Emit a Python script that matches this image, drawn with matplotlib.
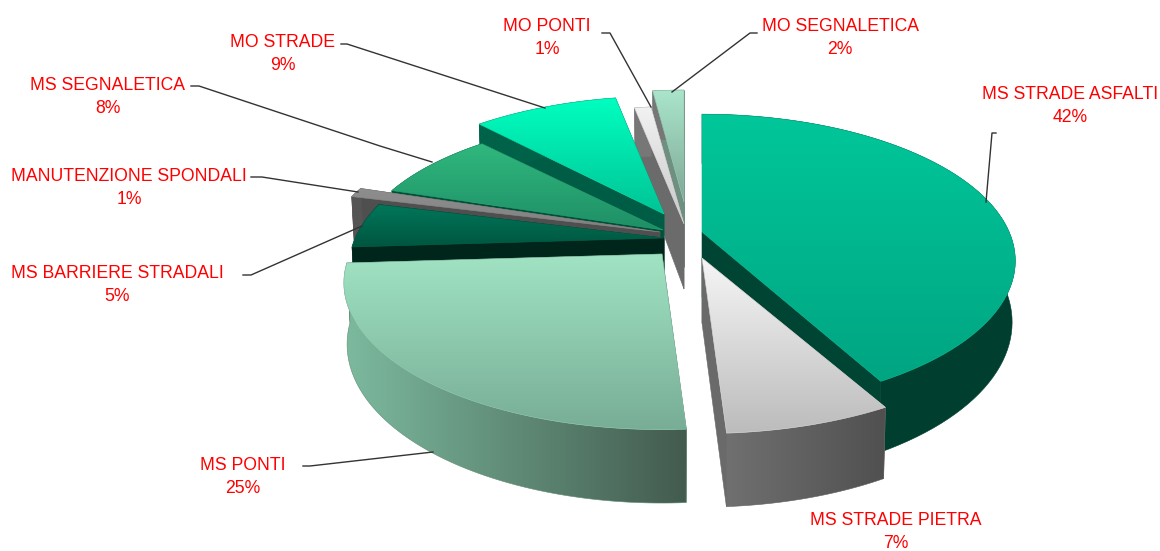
import numpy as np
import matplotlib
matplotlib.use('Agg')
import matplotlib.pyplot as plt
from matplotlib.colors import to_rgb
from matplotlib.patches import Polygon

plt.rcParams['font.family'] = ['Liberation Sans', 'DejaVu Sans']

# data, clockwise from 12 o'clock
names = ['MS STRADE ASFALTI', 'MS STRADE PIETRA', 'MS PONTI', 'MS BARRIERE STRADALI',
         'MANUTENZIONE SPONDALI', 'MS SEGNALETICA', 'MO STRADE', 'MO PONTI', 'MO SEGNALETICA']
values = [42, 7, 25, 5, 1, 8, 9, 1, 2]

# explosion of each slice from the pie centre, in pixels
explode_x = [19, 19, -21, -19, -23, -20, -19, 1, 1]
explode_y = [-3, 23, 19, 3, -3, -5, -21, -11, -33]
scale_x = [0.975, 1, 0.99, 0.98, 1.06, 0.96, 0.98, 1, 0.95]
scale_y = [1, 1, 1, 1, 1.06, 0.96, 1, 1, 0.95]

# colours: top light, top dark, rim left, rim right, cut wall
top_a = ['#00c79a', '#f6f6f6', '#a0e3c3', '#00775a', '#8e8e8e', '#30b87e', '#00ffc0', '#f2f2f2', '#a9e5cb']
top_b = ['#00a582', '#bcbcbc', '#78ad96', '#005640', '#808080', '#1f8f66', '#00c496', '#c8c8c8', '#7fa896']
rim_a = ['#003f2f', '#707070', '#7cba9e', '#00261c', '#555555', '#00513a', '#006248', '#777777', '#777777']
rim_b = ['#003f2f', '#505050', '#435b4f', '#00261c', '#555555', '#00513a', '#006248', '#777777', '#777777']
cut_col = ['#004533', '#6a6a6a', '#435b4f', '#00261c', '#4f4f4f', '#00513a', '#005d45', '#6b6b6b', '#6f8f80']

# draw order, back to front
order = [8, 7, 6, 5, 4, 3, 0, 1, 2]

# labels and leader lines
label_x = [1070, 896, 243, 117, 129, 108, 283, 547, 840]
label_y = [106, 532, 477, 285, 188, 97, 54, 38, 38]
leaders = [
    [(996, 133), (992, 133), (986, 202)],
    [],
    [(303, 466), (310, 466), (433, 452)],
    [(243, 275), (251, 275), (362, 226)],
    [(251, 177), (262, 177), (358, 192)],
    [(191, 86), (199, 86), (380, 146), (432, 162)],
    [(341, 44), (347, 44), (545, 108)],
    [(602, 33), (610, 33), (651, 107)],
    [(757, 33), (750, 33), (672, 92)],
]

CX, CY = 683, 235
RX, RY, P = 315, 141, 0.197
DEPTH, APEX_DEPTH = 59, 65

fig = plt.figure(figsize=(11.6, 5.51), dpi=100)
ax = fig.add_axes([0, 0, 1, 1])
z = [1]


def next_z():
    z[0] += 1
    return z[0]


def rim(theta, sx, sy):
    d = 1 + P * np.cos(theta)
    return RX * sx * np.sin(theta) / d, -RY * sy * np.cos(theta) / d


def low_rim(theta, sx, sy):
    x, y = rim(theta, sx, sy)
    return x * 0.99, y + DEPTH / (1 + P * np.cos(theta))


def shade(pts, c0, c1, horizontal=False):
    pts = np.array(pts)
    x0, y0 = pts.min(axis=0)
    x1, y1 = pts.max(axis=0)
    t = np.linspace(0, 1, 128)
    grad = np.outer(1 - t, to_rgb(c0)) + np.outer(t, to_rgb(c1))
    img = grad[np.newaxis, :, :] if horizontal else grad[:, np.newaxis, :]
    im = ax.imshow(img, extent=(x0, x1, y1, y0), aspect='auto', interpolation='bilinear', zorder=next_z())
    poly = Polygon(pts, closed=True, transform=ax.transData, fc='none', ec='none')
    ax.add_patch(poly)
    im.set_clip_path(poly)
    # thin outline softens the clip edge
    mid = [(a + b) / 2 for a, b in zip(to_rgb(c0), to_rgb(c1))]
    ax.add_patch(Polygon(pts, closed=True, fc='none', ec=mid, lw=0.4, zorder=next_z()))


edges = np.cumsum([0] + values) / sum(values) * 2 * np.pi

for i in order:
    ax_, ay = CX + explode_x[i], CY + explode_y[i]
    th = np.linspace(edges[i], edges[i + 1], 80)
    tx, ty = rim(th, scale_x[i], scale_y[i])
    lx, ly = low_rim(th, scale_x[i], scale_y[i])
    top_rim = np.column_stack([ax_ + tx, ay + ty])
    bot_rim = np.column_stack([ax_ + lx, ay + ly])
    apex = np.array([ax_, ay])
    apex_low = np.array([ax_, ay + APEX_DEPTH])

    for k in (0, -1):
        ax.add_patch(Polygon([apex, top_rim[k], bot_rim[k], apex_low], closed=True,
                             fc=cut_col[i], ec=cut_col[i], lw=0.4, zorder=next_z()))
    shade(np.vstack([top_rim, bot_rim[::-1]]), rim_a[i], rim_b[i], horizontal=True)
    shade(np.vstack([apex, top_rim]), top_a[i], top_b[i])

for i, name in enumerate(names):
    ax.text(label_x[i], label_y[i], f'{name}\n{values[i]}%', color='#ff0000', fontsize=12.7,
            ha='center', va='center', linespacing=1.48, zorder=next_z())
    if leaders[i]:
        xs, ys = zip(*leaders[i])
        ax.plot(xs, ys, color='#333333', lw=1, zorder=next_z())

ax.set_xlim(0, 1160)
ax.set_ylim(551, 0)
ax.axis('off')
fig.savefig('out.png', dpi=100, facecolor='white')
